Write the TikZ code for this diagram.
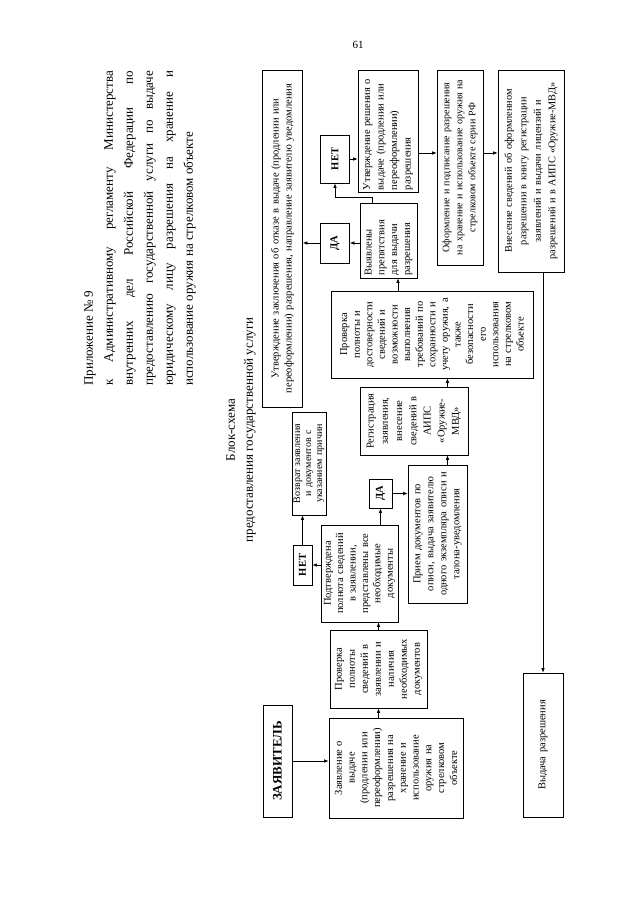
\documentclass[tikz,border=0pt]{standalone}
\usepackage{fontspec}
\setmainfont{Liberation Serif}
\usetikzlibrary{arrows.meta}
\newcommand\hdrline[1]{\makebox[315pt][s]{#1}}
\begin{document}
\begin{tikzpicture}[x=1pt,y=-1pt,
  box/.style={draw, line width=0.6pt, rotate=90, inner sep=0pt, align=center, font=\fontsize{10.5}{12.8}\selectfont},
  yn/.style={draw, line width=0.8pt, rotate=90, inner sep=0pt, font=\bfseries\fontsize{10.5}{12}\selectfont},
  arr/.style={-{Latex[length=4.5pt,width=3.5pt]}, line width=0.6pt}]
\fill[white] (0,0) rectangle (640,905);
\useasboundingbox (0,0) rectangle (640,905);

\node[font=\fontsize{11}{13}\selectfont] (pnum) at (358,45) {61};

\node[rotate=90, anchor=north west, inner sep=0pt, align=left, font=\fontsize{13}{20}\selectfont] (hdr) at (84,386)
 {Приложение № 9\\
  \hdrline{к Административному регламенту Министерства}\\
  \hdrline{внутренних дел Российской Федерации по}\\
  \hdrline{предоставлению государственной услуги по выдаче}\\
  \hdrline{юридическому лицу разрешения на хранение и}\\
  использование оружия на стрелковом объекте};

\node[rotate=90, align=center, inner sep=0pt, font=\fontsize{13}{18}\selectfont] (title) at (241,430)
 {Блок-схема\\ предоставления государственной услуги};

% boxes
\node[box, minimum width=337pt, minimum height=40pt, text width=334pt] (otkaz) at (282.5,238.5)
 {Утверждение заключения об отказе в выдаче (продлении или\\ переоформлении) разрешения, направление заявителю уведомления};
\node[yn, minimum width=48pt, minimum height=29pt] (net1) at (335,159) {НЕТ};
\node[yn, minimum width=40pt, minimum height=29pt] (da1) at (335,243) {ДА};
\node[box, minimum width=75pt, minimum height=57pt, text width=70pt, align=left] (vyyav) at (388.5,240.5)
 {Выявлены\\ препятствия\\ для выдачи\\ разрешения};
\node[box, minimum width=122pt, minimum height=60pt, text width=118pt, align=left, font=\fontsize{10.5}{13.5}\selectfont] (utv) at (388,131)
 {Утверждение решения о\\ выдаче (продлении или\\ переоформлении)\\ разрешения};
\node[box, minimum width=195pt, minimum height=46pt, text width=193pt, font=\fontsize{10}{13}\selectfont] (oform) at (460,167.5)
 {Оформление и подписание разрешения\\ на хранение и использование оружия на\\ стрелковом объекте серии РФ};
\node[box, minimum width=202pt, minimum height=66pt, text width=200pt, font=\fontsize{10.3}{14.5}\selectfont] (vnes) at (531,171)
 {Внесение сведений об оформленном\\ разрешении в книгу регистрации\\ заявлений и выдачи лицензий и\\ разрешений и в АИПС «Оружие-МВД»};
\node[box, minimum width=144pt, minimum height=40pt, text width=136pt] (vydacha) at (543,745)
 {Выдача разрешения};
\node[box, minimum width=87pt, minimum height=202pt, text width=84pt, font=\fontsize{10.5}{12.6}\selectfont] (prov) at (432,334.5)
 {Проверка\\ полноты и\\ достоверности\\ сведений и\\ возможности\\ выполнения\\ требований по\\ сохранности и\\ учету оружия, а\\ также\\ безопасности\\ его\\ использования\\ на стрелковом\\ объекте};
\node[box, minimum width=68pt, minimum height=108pt, text width=66pt, font=\fontsize{10.5}{14.2}\selectfont] (reg) at (414,421)
 {Регистрация\\ заявления,\\ внесение\\ сведений в\\ АИПС\\ «Оружие-\\ МВД»};
\node[box, minimum width=138pt, minimum height=59pt, text width=134pt, font=\fontsize{10.5}{13}\selectfont] (priem) at (437.5,534)
 {Прием документов по\\ описи, выдача заявителю\\ одного экземпляра описи и\\ талона-уведомления};
\node[yn, minimum width=29pt, minimum height=23pt] (da2) at (380.5,493.5) {ДА};
\node[box, minimum width=97pt, minimum height=77pt, text width=95pt, font=\fontsize{10.5}{12.4}\selectfont] (podt) at (359.5,573.5)
 {Подтверждена\\ полнота сведений\\ в заявлении,\\ представлены все\\ необходимые\\ документы};
\node[yn, minimum width=40pt, minimum height=19pt] (net2) at (302.5,565) {НЕТ};
\node[box, minimum width=103pt, minimum height=34pt, text width=100pt, font=\fontsize{10}{11}\selectfont] (vozv) at (309,463.5)
 {Возврат заявления\\ и документов с\\ указанием причин};
\node[box, minimum width=78pt, minimum height=97pt, text width=76pt, font=\fontsize{10.5}{13}\selectfont] (prov2) at (378.5,669)
 {Проверка\\ полноты\\ сведений в\\ заявлении и\\ наличия\\ необходимых\\ документов};
\node[box, minimum width=100pt, minimum height=134pt, text width=98pt, font=\fontsize{10.5}{12.8}\selectfont] (zayavl) at (396,768)
 {Заявление о\\ выдаче\\ (продлении или\\ переоформлении)\\ разрешения на\\ хранение и\\ использование\\ оружия на\\ стрелковом\\ объекте};
\node[yn, minimum width=112pt, minimum height=29pt, font=\bfseries\fontsize{13}{15}\selectfont] (zayav) at (277.5,761) {ЗАЯВИТЕЛЬ};

% connectors
\draw[arr] (zayav.south) -- (zayav.south -| zayavl.north);
\draw[arr] (prov2.west |- zayavl.east) -- (prov2.west);
\draw[arr] (prov2.east) -- (prov2.east |- podt.west);
\draw[arr] (podt.north |- net2) -- (net2.south);
\draw[arr] (net2.east) -- (net2.east |- vozv.west);
\draw[arr] (da2.west |- podt.east) -- (da2.west);
\draw[arr] (da2.south) -- (da2.south -| priem.north);
\draw[arr] ([xshift=10pt]priem.east) -- ([xshift=10pt]priem.east |- reg.west);
\draw[arr] ([xshift=10pt]priem.east |- reg.east) -- ([xshift=10pt]priem.east |- prov.west);
\draw[arr] ([xshift=9.5pt]vyyav.west |- prov.east) -- ([xshift=9.5pt]vyyav.west);
\draw[arr] (vyyav.north |- da1) -- (da1.south);
\draw[arr] (da1.north) -- (da1.north -| otkaz.south);
\draw[arr] ([xshift=-16pt]vyyav.east) -- ++(0,-5) -| (net1.west);
\draw[arr] (net1.south) -- (net1.south -| utv.north);
\draw[arr] ([yshift=-22pt]utv.south) -- ([yshift=-22pt]utv.south -| oform.north);
\draw[arr] ([yshift=14.5pt]oform.south) -- ([yshift=14.5pt]oform.south -| vnes.north);
\draw[arr] (vydacha.east |- vnes.west) -- (vydacha.east);
\end{tikzpicture}
\end{document}
